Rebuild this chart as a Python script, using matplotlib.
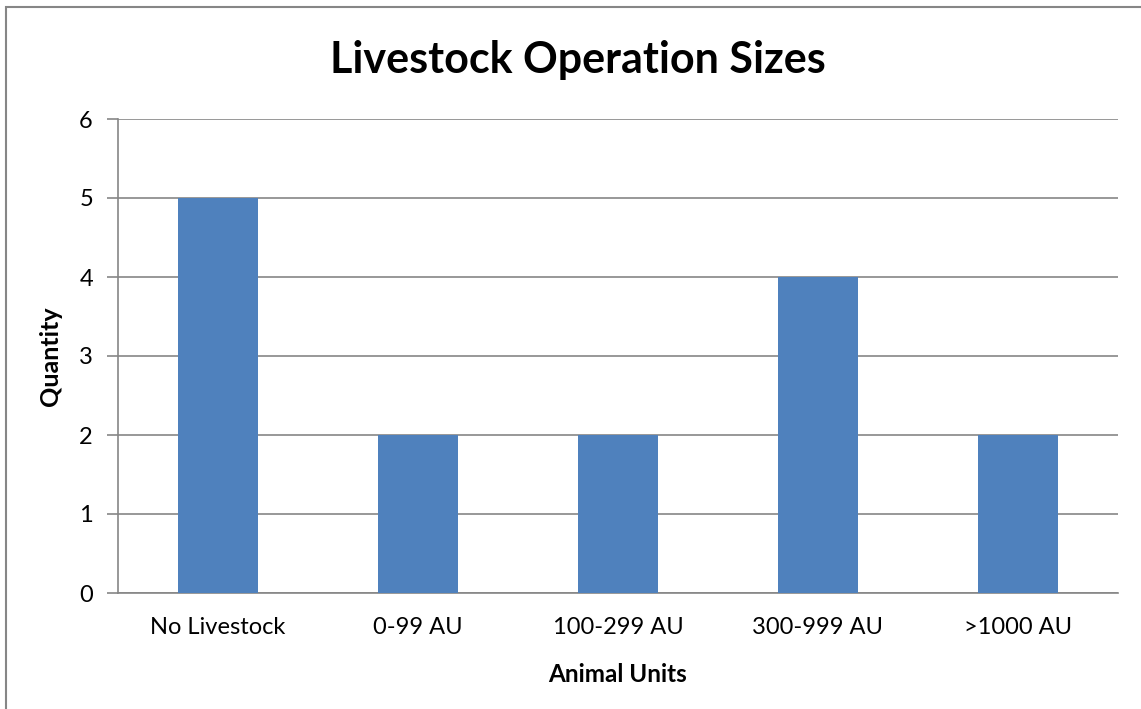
import matplotlib.pyplot as plt
from matplotlib.patches import Rectangle

categories = ['No Livestock', '0-99 AU', '100-299 AU', '300-999 AU', '>1000 AU']
quantities = [5, 2, 2, 4, 2]

plt.rcParams['font.family'] = ['Lato', 'DejaVu Sans']

fig = plt.figure(figsize=(11.41, 7.09), dpi=100)
ax = fig.add_axes([118 / 1141, 1 - 593 / 709, 1000 / 1141, 474 / 709])

# outer chart border
fig.patches.append(Rectangle((6 / 1141, -0.01), 1.1, 1 - 7 / 709 + 0.01,
                             transform=fig.transFigure, fill=False,
                             edgecolor='#868686', linewidth=1.5))

x = range(len(categories))
ax.bar(x, quantities, width=0.4, color='#4F81BD', zorder=3)

ax.set_xlim(-0.5, len(categories) - 0.5)
ax.set_ylim(0, 6)
ax.set_yticks(range(7))
ax.set_xticks(list(x))
ax.set_xticklabels(categories)
ax.grid(axis='y', color='#868686', linewidth=1.2, zorder=0)

for side in ['top', 'right']:
    ax.spines[side].set_visible(False)
for side in ['left', 'bottom']:
    ax.spines[side].set_color('#868686')
    ax.spines[side].set_linewidth(1.2)

ax.tick_params(axis='x', length=0, pad=17, labelsize=17)
ax.tick_params(axis='y', length=8, width=1.2, color='#868686', pad=10, labelsize=17)

ax.set_xlabel('Animal Units', fontsize=17.5, fontweight='bold', labelpad=18)
ax.set_ylabel('Quantity', fontsize=18, fontweight='bold', labelpad=12)
fig.text(578 / 1141, 1 - 60 / 709, 'Livestock Operation Sizes', fontsize=31,
         fontweight='bold', ha='center', va='center')

fig.savefig('out.png')
